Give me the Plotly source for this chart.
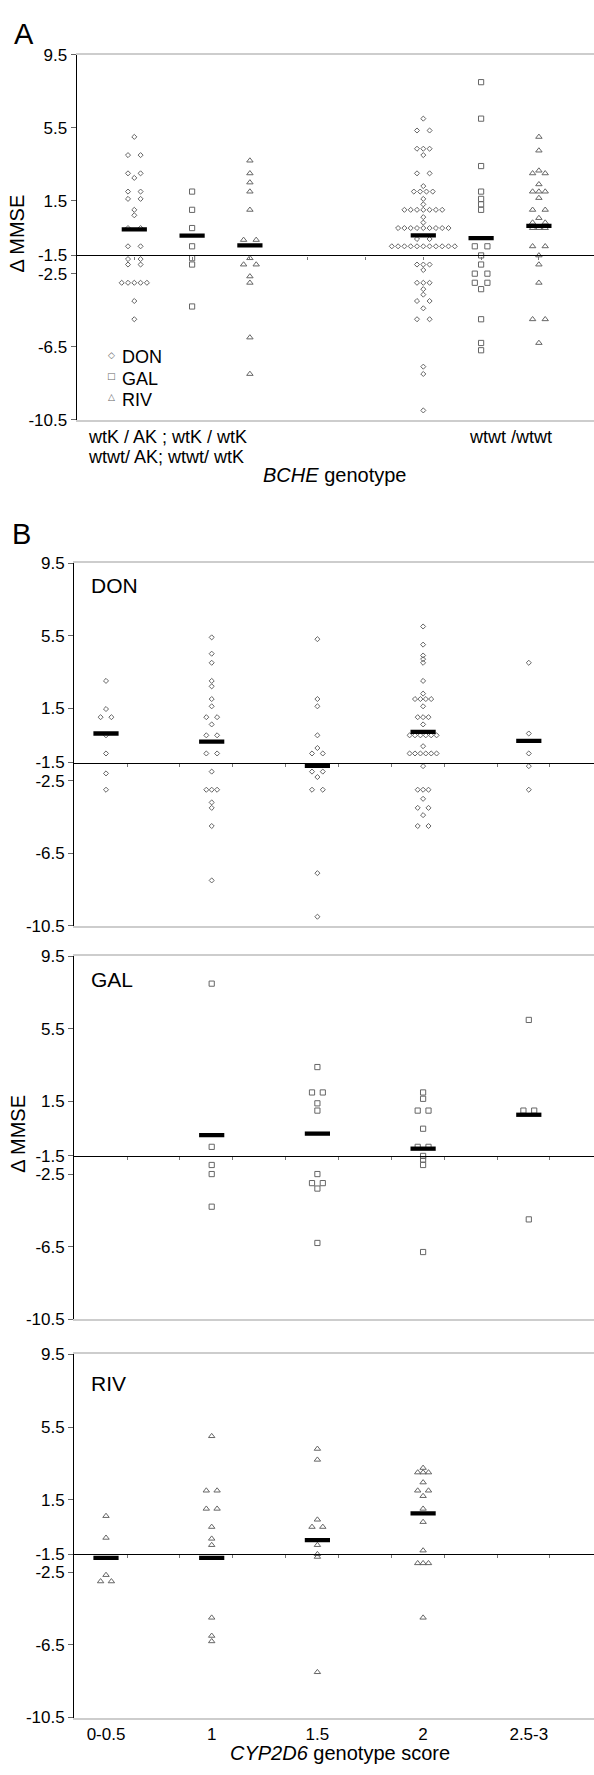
import plotly.graph_objects as go
from collections import Counter

# ---------------- data ----------------
DRUGS = ["DON", "GAL", "RIV"]
BCHE_LABEL_LINE1 = "wtK / AK ; wtK / wtK"
BCHE_LABEL_LINE2 = "wtwt/ AK; wtwt/ wtK"
BCHE_LABEL_WTWT = "wtwt /wtwt"

# Panel A: delta MMSE by BCHE genotype group
A_DON_WTK = [5, 4, 4, 3, 3, 2.75, 2, 2, 1.6, 1.6, 1, 0.7, 0, 0, -1, -1,
             -1.7, -1.7, -2, -2, -3, -3, -3, -3, -3, -4, -5]
A_GAL_WTK = [2, 1, 0, -1, -1.65, -2, -4.3]
A_RIV_WTK = [3.7, 3, 2.5, 2, 1, -0.65, -0.65, -1.65, -2, -2, -2.65, -3, -6, -8]
A_DON_WTWT = [6, 5.35, 5.35, 4.35, 4.35, 4.35, 4, 3, 3, 2.3, 2, 2, 2, 2, 1.6, 1.3,
              1, 1, 1, 1, 1, 1, 1, 0.6, 0.3,
              0, 0, 0, 0, 0, 0, 0, 0, 0, -0.6, -0.6,
              -1, -1, -1, -1, -1, -1, -1, -1, -1, -1, -1,
              -2, -2, -2, -2.3, -3, -3, -3, -3.35, -3.65, -4, -4, -4.4, -5, -5,
              -7.6, -8, -10]
A_GAL_WTWT = [8, 6, 3.4, 2, 1.6, 1.3, 1, -1, -1, -1.5, -2, -2.5, -2.5, -3, -3,
              -3.35, -5, -6.3, -6.7]
A_RIV_WTWT = [5, 4.25, 3.15, 3, 3, 2.4, 2, 2, 2, 1.65, 1, 1, 0.55, 0.3, 0.3,
              0, 0, 0, -1, -1, -1.5, -2, -3, -5, -5, -6.3]
A_MEAN_DON = [-0.07, -0.4]
A_MEAN_GAL = [-0.42, -0.55]
A_MEAN_RIV = [-0.95, 0.12]

# Panel B: delta MMSE by CYP2D6 genotype score
CYP2D6_SCORES = ["0-0.5", "1", "1.5", "2", "2.5-3"]
B_DON = [
    [3, 1.45, 1, 1, 0, -1, -2.1, -3],
    [5.4, 4.5, 4, 3, 2.7, 2, 1.6, 1, 1, 0.6, 0, 0, -1, -1, -2, -3, -3, -3, -3.7, -4, -5, -8],
    [5.3, 2, 1.6, 0, -0.7, -1, -1, -2, -2, -2.3, -3, -3, -7.6, -10],
    [6, 5, 4.4, 4.2, 4, 3, 2.3, 2, 2, 2, 2, 1.6, 1, 1, 1, 0.6,
     0, 0, 0, 0, 0, 0, -0.6, -1, -1, -1, -1, -1, -1, -1.7,
     -3, -3, -3, -3.5, -4, -4, -4.4, -5, -5],
    [4, 0.1, -1, -1.7, -3],
]
B_GAL = [
    [],
    [8, -1, -2, -2.5, -4.3],
    [3.4, 2, 2, 1.4, 1, -2.5, -3, -3, -3.3, -6.3],
    [2, 1.65, 1, 1, 0, -1, -1, -1.5, -1.7, -2, -6.8],
    [6, 1, 1, -5],
]
B_RIV = [
    [0.6, -0.6, -2.65, -3, -3],
    [5, 2, 2, 1, 1, 0, -0.65, -1, -5, -6, -6.3],
    [4.3, 3.7, 0.4, 0, 0, -1, -1.5, -1.65, -8],
    [3.25, 3, 3, 3, 2.45, 2, 2, 1.7, 1, 0.27, -1.3, -2, -2, -2, -5],
    [],
]
B_MEAN_DON = [0.1, -0.35, -1.68, 0.19, -0.31]
B_MEAN_GAL = [None, -0.35, -0.27, -1.1, 0.77]
B_MEAN_RIV = [-1.71, -1.71, -0.73, 0.74, None]

Y_TICKS = [9.5, 5.5, 1.5, -1.5, -2.5, -6.5, -10.5]
Y_TICKTEXT = ["9.5", "5.5", "1.5", "-1.5", "-2.5", "-6.5", "-10.5"]
Y_RANGE = [-10.5, 9.5]
REF_VALUE = -1.5

# ---------------- layout geometry (pixels) ----------------
W, H = 594, 1775
FONT = "Liberation Sans, Arial, Helvetica, sans-serif"
MARK_COLOR = "#666666"
FRAME_GRAY = "#cdcdcd"
SYMBOLS = {"DON": "diamond-open", "GAL": "square-open", "RIV": "triangle-up-open"}
SIZES = {"DON": 3.9, "GAL": 5.2, "RIV": 5.6}

A_AX_LEFT, A_SLOT0, A_UNIT = 76.7, 134.3, 57.8
B_AX_LEFT, B_CAT0, B_UNIT = 74.2, 106.0, 105.7
GROUP_STRIDE = 5
A_TOP, A_BOT = 46.3, 415.0
B_PANELS = [(560.0, 926.7), (957.7, 1324.3), (1360.0, 1727.0)]
A_STEP = 6.3 / A_UNIT
B_STEP = 5.4 / B_UNIT

A_RANGE = [(A_AX_LEFT - A_SLOT0) / A_UNIT, (W - A_SLOT0) / A_UNIT]
B_RANGE = [(B_AX_LEFT - B_CAT0) / B_UNIT, (W - B_CAT0) / B_UNIT]


def xdom(p0, p1):
    return [p0 / W, min(1.0, p1 / W)]


def ydom(top, bot):
    return [1 - bot / H, 1 - top / H]


def ref_position(dom):
    frac = (REF_VALUE - Y_RANGE[0]) / (Y_RANGE[1] - Y_RANGE[0])
    return dom[0] + frac * (dom[1] - dom[0])


def spread(values, step):
    cnt = Counter(values)
    seen = Counter()
    out = []
    for v in values:
        n = cnt[v]
        i = seen[v]
        seen[v] += 1
        if n == 2:
            out.append((-1 if i == 0 else 1) * step)
        else:
            out.append((i - (n - 1) / 2) * step)
    return out


def marker(drug):
    return dict(symbol=SYMBOLS[drug], size=SIZES[drug], color=MARK_COLOR,
                line=dict(width=1, color=MARK_COLOR))


MEAN_MARKER = dict(symbol="line-ew", size=18, color="black",
                   line=dict(width=4.3, color="black"))

fig = go.Figure()

# ---------- Panel A ----------
A_DATA = {"DON": [A_DON_WTK, A_DON_WTWT],
          "GAL": [A_GAL_WTK, A_GAL_WTWT],
          "RIV": [A_RIV_WTK, A_RIV_WTWT]}
A_MEANS = {"DON": A_MEAN_DON, "GAL": A_MEAN_GAL, "RIV": A_MEAN_RIV}

mx, my = [], []
for d, drug in enumerate(DRUGS):
    xs, ys = [], []
    for g, vals in enumerate(A_DATA[drug]):
        slot = d + g * GROUP_STRIDE
        xs += [slot + o for o in spread(vals, A_STEP)]
        ys += vals
        mx.append(slot)
        my.append(A_MEANS[drug][g])
    fig.add_trace(go.Scatter(x=xs, y=ys, mode="markers", name=drug,
                             marker=marker(drug), showlegend=False,
                             xaxis="x", yaxis="y"))
fig.add_trace(go.Scatter(x=mx, y=my, mode="markers", marker=MEAN_MARKER,
                         showlegend=False, xaxis="x", yaxis="y"))

# ---------- Panel B ----------
B_DATA = {"DON": B_DON, "GAL": B_GAL, "RIV": B_RIV}
B_MEANS = {"DON": B_MEAN_DON, "GAL": B_MEAN_GAL, "RIV": B_MEAN_RIV}
for d, drug in enumerate(DRUGS):
    ax = str(d + 2)
    xs, ys = [], []
    for c, vals in enumerate(B_DATA[drug]):
        xs += [c + o for o in spread(vals, B_STEP)]
        ys += vals
    fig.add_trace(go.Scatter(x=xs, y=ys, mode="markers", name=drug,
                             marker=marker(drug), showlegend=False,
                             xaxis="x" + ax, yaxis="y" + ax))
    cx = [c for c, m in enumerate(B_MEANS[drug]) if m is not None]
    cy = [m for m in B_MEANS[drug] if m is not None]
    fig.add_trace(go.Scatter(x=cx, y=cy, mode="markers", marker=MEAN_MARKER,
                             showlegend=False, xaxis="x" + ax, yaxis="y" + ax))

# empty traces so that the reference-line axes get drawn
for i, yax in zip(range(5, 9), ["y", "y2", "y3", "y4"]):
    fig.add_trace(go.Scatter(x=[], y=[], xaxis="x" + str(i), yaxis=yax,
                             showlegend=False, hoverinfo="skip"))

layout = dict(width=W, height=H, margin=dict(l=0, r=0, t=0, b=0),
              paper_bgcolor="white", plot_bgcolor="white",
              font=dict(family=FONT, color="black", size=17),
              showlegend=False)

yaxis_common = dict(range=Y_RANGE, tickvals=Y_TICKS, ticktext=Y_TICKTEXT,
                    showline=True, linecolor="black", linewidth=1.2,
                    ticks="outside", ticklen=5, tickcolor="#666", tickwidth=1,
                    showgrid=False, zeroline=False,
                    tickfont=dict(size=17, family=FONT, color="black"))
xaxis_common = dict(showline=True, linecolor=FRAME_GRAY, linewidth=1.6,
                    mirror=True, ticks="", showgrid=False, zeroline=False,
                    showticklabels=False)
ref_common = dict(anchor="free", showline=True, linecolor="black", linewidth=1.2,
                  ticks="outside", ticklen=3, tickcolor="#777", tickwidth=1,
                  showticklabels=False, showgrid=False, zeroline=False)

# panel A axes
a_xd = xdom(A_AX_LEFT, W)
a_yd = ydom(A_TOP, A_BOT)
layout["xaxis"] = dict(xaxis_common, domain=a_xd, range=A_RANGE, anchor="y")
layout["yaxis"] = dict(yaxis_common, domain=a_yd, anchor="x")
layout["xaxis5"] = dict(ref_common, overlaying="x", domain=a_xd, range=A_RANGE,
                        position=ref_position(a_yd),
                        tickvals=list(range(0, 8)))

b_xd = xdom(B_AX_LEFT, W)
b_ref_ticks = [0.2 + 0.5 * k for k in range(10)]
for i, (top, bot) in enumerate(B_PANELS):
    n = str(i + 2)
    yd_ = ydom(top, bot)
    xa = dict(xaxis_common, domain=b_xd, range=B_RANGE, anchor="y" + n)
    if i == 2:
        xa.update(showticklabels=True, tickvals=list(range(len(CYP2D6_SCORES))),
                  ticktext=CYP2D6_SCORES,
                  tickfont=dict(size=17, family=FONT, color="black"))
    layout["xaxis" + n] = xa
    layout["yaxis" + n] = dict(yaxis_common, domain=yd_, anchor="x" + n)
    layout["xaxis" + str(i + 6)] = dict(ref_common, overlaying="x" + n,
                                        domain=b_xd, range=B_RANGE,
                                        position=ref_position(yd_),
                                        tickvals=b_ref_ticks)


def ann(text, px, py, size, xanchor="left", angle=0, family=FONT, color="black"):
    return dict(text=text, x=px / W, y=1 - py / H, xref="paper", yref="paper",
                xanchor=xanchor, yanchor="middle", showarrow=False,
                textangle=angle, font=dict(size=size, family=family, color=color))


annotations = [
    ann("A", 11.5, 25, 29),
    ann("B", 9.5, 531, 29),
    ann(BCHE_LABEL_LINE1, 86, 433, 18),
    ann(BCHE_LABEL_LINE2, 86, 453, 18),
    ann(BCHE_LABEL_WTWT, 510.5, 433, 18, xanchor="center"),
    ann("<i>BCHE</i> genotype", 334, 471.5, 20, xanchor="center"),
    ann("Δ MMSE", 17, 227, 20, xanchor="center", angle=-90),
    ann("Δ MMSE", 18, 1137, 20, xanchor="center", angle=-90),
    ann("<i>CYP2D6</i> genotype score", 340, 1763, 20, xanchor="center"),
    ann("DON", 89, 582.5, 21),
    ann("GAL", 89, 981.5, 21),
    ann("RIV", 89, 1389.5, 21),
]
# legend of panel A
LEG_GLYPH = {"DON": "◇", "GAL": "□", "RIV": "△"}
for k, drug in enumerate(DRUGS):
    yc = 352 + k * 21.5
    annotations.append(ann(LEG_GLYPH[drug], 111.7, yc - 2.5, 9, xanchor="center",
                           family="DejaVu Sans", color=MARK_COLOR))
    annotations.append(ann(drug, 120, yc, 18))
layout["annotations"] = annotations

fig.update_layout(**layout)
fig.write_html("out.html", config={"displayModeBar": False},
               post_script="document.body.style.margin='0';")
